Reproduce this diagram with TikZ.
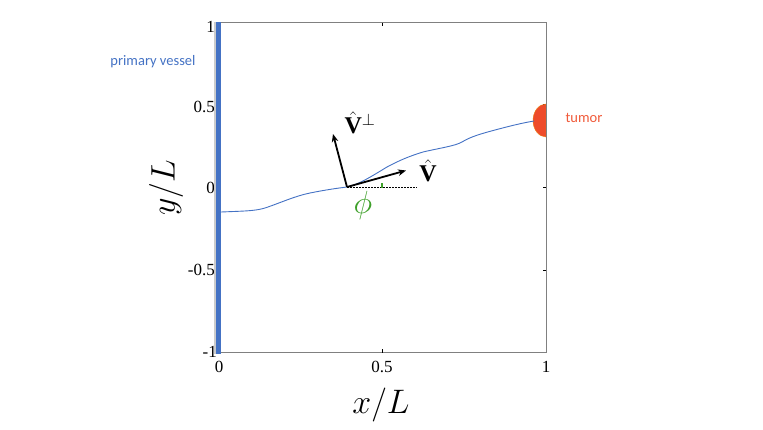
\RequirePackage{fix-cm}
\documentclass[tikz,border=0pt]{standalone}
\usepackage{fontspec}
\setmainfont{Liberation Serif}
\newfontfamily\calib{Carlito}
\usepackage{amsmath}
\usetikzlibrary{arrows.meta}
\definecolor{vesselblue}{HTML}{4472C4}
\definecolor{tumorred}{HTML}{EE4B2B}
\definecolor{tumortext}{HTML}{F05A3A}
\definecolor{axisgrey}{HTML}{808080}
\definecolor{phigreen}{HTML}{3EA02A}
\begin{document}
\begin{tikzpicture}[x=1pt,y=-1pt,
  ticklab/.style={font=\fontsize{17}{17}\selectfont, inner sep=0pt},
  axlab/.style={font=\fontsize{34}{34}\selectfont, inner sep=0pt},
  veclab/.style={font=\fontsize{24}{24}\selectfont, inner sep=0pt},
  vec/.style={line width=1.8pt, -{Stealth[length=8pt,width=6.5pt]}},
  annot/.style={font=\calib\fontsize{14.5}{14.5}\selectfont, inner sep=0pt}]
\useasboundingbox (0,0) rectangle (763,429);
% axes box
\draw[axisgrey, line width=0.8pt] (218,22.5) rectangle (546,352.5);
% ticks
\foreach \yy in {104.5,187.5,270}{
  \draw[black, line width=0.6pt] (546,\yy) -- (543,\yy);
}
\draw[black, line width=0.6pt] (382,22.5) -- (382,26);
\draw[black, line width=0.6pt] (382,352.5) -- (382,349);
% tick labels
\node[ticklab, anchor=east] (y1) at (215,27) {1};
\node[ticklab, anchor=east] (y05) at (215,107) {0.5};
\node[ticklab, anchor=east] (y0) at (215,187.5) {0};
\node[ticklab, anchor=east] (ym05) at (215,270) {-0.5};
\node[ticklab, anchor=east] (ym1) at (217,352) {-1};
\node[ticklab] (x0) at (219,367) {0};
\node[ticklab] (x05) at (382,367) {0.5};
\node[ticklab] (x1) at (546,367) {1};
% axis labels
\node[axlab] (xl) at (381,405) {$x/L$};
\node[axlab, rotate=90] (yl) at (166,188) {$y/L$};
% vessel
\fill[gray!40] (213.5,22) rectangle (216,354);
\fill[vesselblue] (216,22) rectangle (221,354);
\node[annot, text=vesselblue] (pv) at (153,62) {primary vessel};
% tumor
\fill[tumorred, draw=orange!70!brown, line width=0.4pt] (546,137) arc[start angle=90, end angle=270, x radius=13, y radius=16.5] -- cycle;
\draw[axisgrey, line width=0.8pt] (546,100) -- (546,140);
\node[annot, text=tumortext] (tm) at (584,118) {tumor};
% sprout
\draw[vesselblue, line width=0.9pt] (221,212) .. controls (245,211) and (255,211) .. (265,208)
  .. controls (280,203) and (295,196) .. (310,193)
  .. controls (325,190) and (335,188.5) .. (347,187)
  .. controls (360,184) and (372,176) .. (387,167)
  .. controls (400,160) and (410,156) .. (423,152)
  .. controls (440,148) and (455,146) .. (462,142)
  .. controls (470,137) and (480,134) .. (495,130)
  .. controls (510,126) and (522,123) .. (534,121);
% vectors
\coordinate (O) at (347,187);
\coordinate (Vt) at (406,170.5);
\coordinate (Pt) at (333,134);
\coordinate (De) at (417,187);
\draw[line width=0.5pt, dash pattern=on 2pt off 1pt] (O) -- (De);
\draw[phigreen, line width=1.8pt] (382,183) -- (382,187.5);
\draw[vec] (O) -- (Vt);
\draw[vec] (O) -- (Pt);
\node[veclab] (vl) at (428,171) {$\hat{\mathbf{V}}$};
\node[veclab] (pl) at (360,123) {$\hat{\mathbf{V}}^{\perp}$};
\node[font=\fontsize{32}{32}\selectfont, inner sep=0pt, text=phigreen] (phi) at (363,205) {$\phi$};
\end{tikzpicture}
\end{document}
